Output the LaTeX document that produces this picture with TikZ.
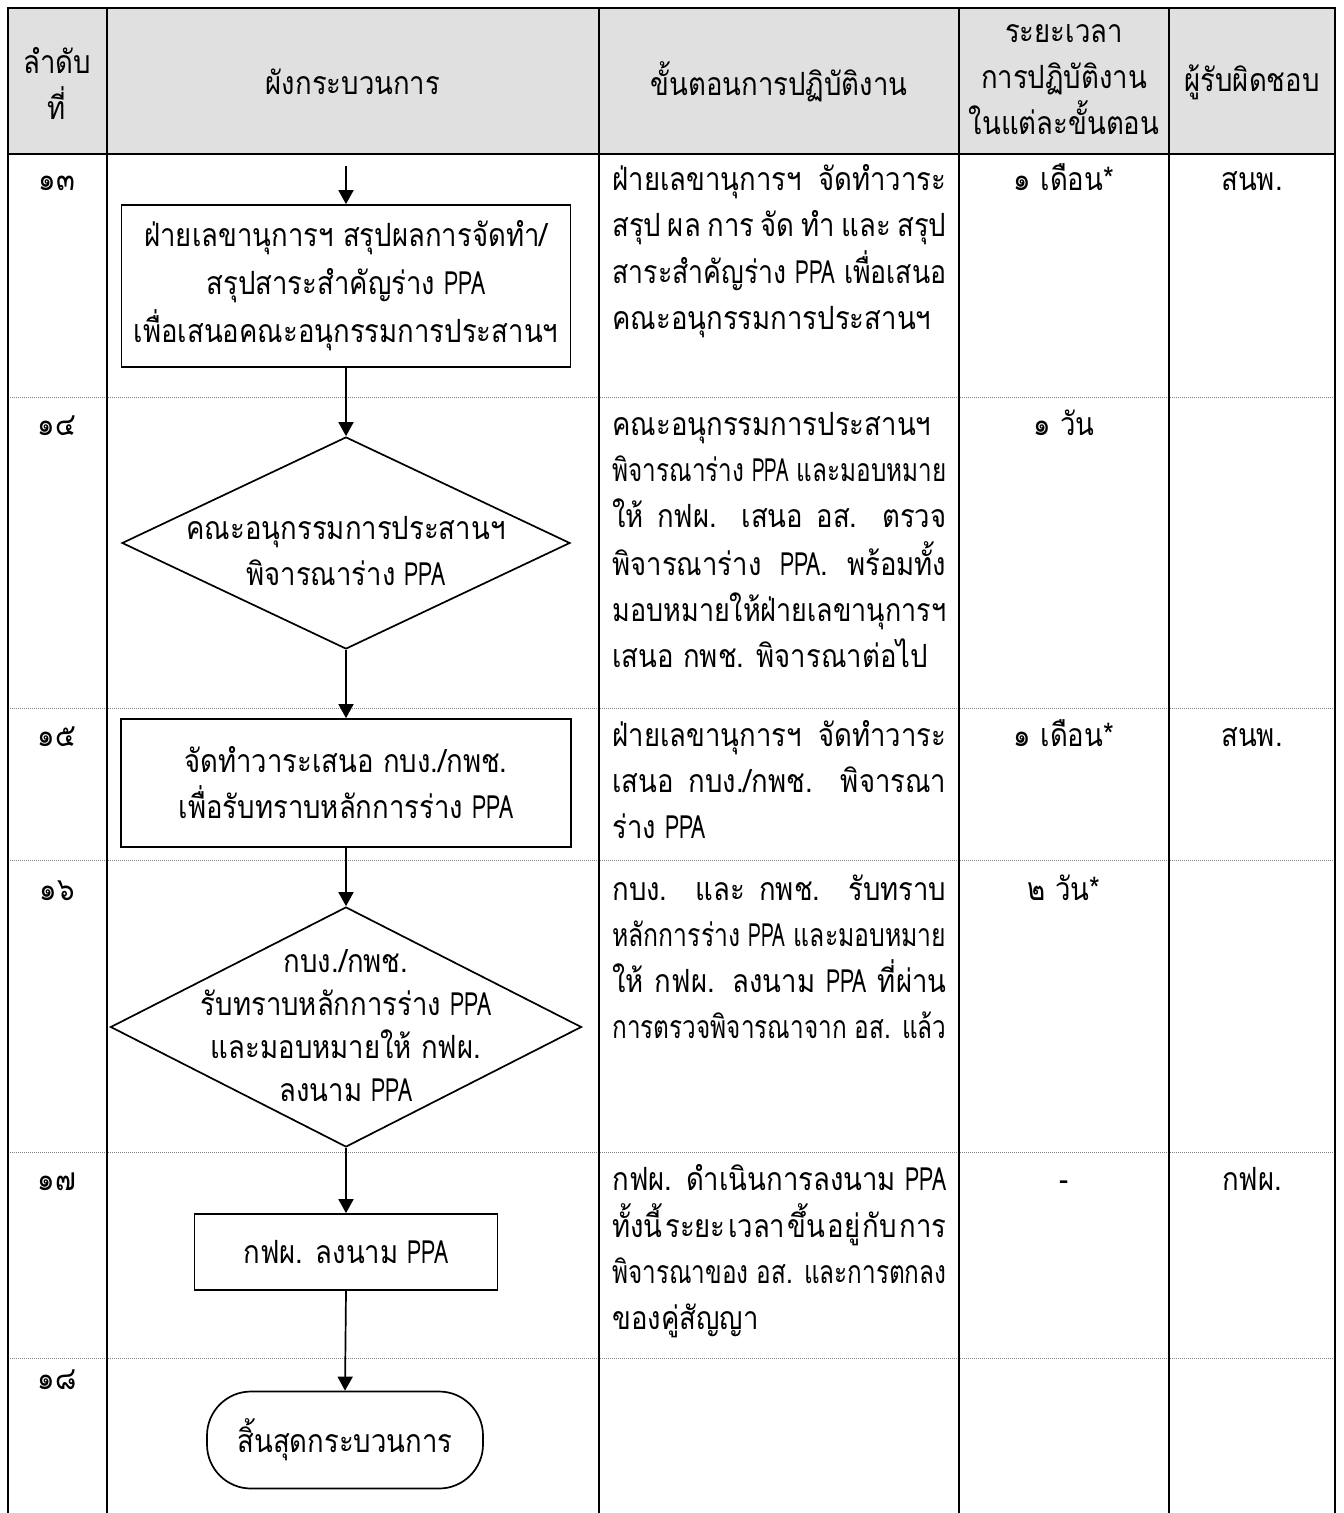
\documentclass[tikz,border=0pt]{standalone}
\usepackage{graphicx}
\usepackage{fontspec}
\setmainfont[Script=Thai, FakeStretch=0.86]{Loma}
\newfontfamily\latn[FakeStretch=0.66]{Loma}
\usetikzlibrary{shapes.geometric,arrows.meta}
\definecolor{hdrgray}{HTML}{E0E0E0}
\definecolor{dotgray}{HTML}{808080}
\newcommand\ppaw{{\latn PPA}}
\newsavebox\jlbox
\newcommand\jl[1]{\sbox\jlbox{#1}\ifdim\wd\jlbox>167pt\relax\resizebox{167pt}{\height}{\usebox\jlbox}\else\makebox[167pt][s]{#1}\fi}
\newcommand\gp{\hskip 0pt plus 1fil\relax}
\tikzset{
  frame/.style={line width=1pt, draw=black},
  rowsep/.style={line width=0.5pt, draw=dotgray, dash pattern=on 0.5pt off 0.5pt},
  txt/.style={font=\fontsize{16}{23}\selectfont, inner sep=0pt},
  hdrtxt/.style={txt, align=center},
  coltxt/.style={txt, anchor=base west},
  ctrtxt/.style={txt, align=center, anchor=base},
  procbox/.style={draw, line width=0.85pt, rectangle, txt, align=center},
  decision/.style={draw, line width=0.85pt, diamond, inner sep=0pt},
  termbox/.style={draw, line width=0.85pt, rectangle, rounded corners=22pt, txt, align=center},
  flow/.style={line width=0.85pt, -{Triangle[length=7pt,width=7.5pt]}}
}
\begin{document}
\begin{tikzpicture}[x=0.5pt,y=-0.5pt]
\useasboundingbox (0,0) rectangle (1343,1513);
% header background
\fill[hdrgray] (8,8) rectangle (1335,154);
% row separators
\foreach \yy in {398,708,860,1152,1358}{
  \draw[rowsep] (8,\yy) -- (1335,\yy);
}
% frame
\draw[frame] (8,1513) -- (8,8) -- (1335,8) -- (1335,1513);
\draw[frame] (8,154) -- (1335,154);
\foreach \xx in {107,599,959,1169}{
  \draw[frame] (\xx,8) -- (\xx,1513);
}
% header texts
\node[hdrtxt] (h1) at (57,83) {ลำดับ\\ที่};
\node[hdrtxt] (h2) at (353,82) {ผังกระบวนการ};
\node[hdrtxt] (h3) at (779,82) {ขั้นตอนการปฏิบัติงาน};
\node[hdrtxt] (h4) at (1064,80) {ระยะเวลา\\การปฏิบัติงาน\\ในแต่ละขั้นตอน};
\node[hdrtxt] (h5) at (1252,82) {ผู้รับผิดชอบ};
% row numbers
\node[ctrtxt] (n13) at (57,191) {๑๓};
\node[ctrtxt] (n14) at (57,436) {๑๔};
\node[ctrtxt] (n15) at (57,746) {๑๕};
\node[ctrtxt] (n16) at (57,900) {๑๖};
\node[ctrtxt] (n17) at (57,1190) {๑๗};
\node[ctrtxt] (n18) at (57,1389) {๑๘};
% column 3 texts
\node[coltxt] (s13) at (612,191) {\begin{tabular}[t]{@{}l@{}}
\jl{ฝ่ายเลขานุการฯ จัดทำวาระ}\\
\jl{สรุป\gp ผล\gp การ\gp จัด\gp ทำ\gp และ\gp สรุป}\\
\jl{สาระสำคัญร่าง \ppaw{} เพื่อเสนอ}\\
คณะอนุกรรมการประสานฯ
\end{tabular}};
\node[coltxt] (s14) at (612,436) {\begin{tabular}[t]{@{}l@{}}
คณะอนุกรรมการประสานฯ\\
\jl{พิจารณาร่าง \ppaw{} และมอบหมาย}\\
\jl{ให้ กฟผ. เสนอ อส. ตรวจ}\\
\jl{พิจารณาร่าง \ppaw. พร้อมทั้ง}\\
\jl{มอบหมาย\gp ให้\gp ฝ่าย\gp เลขานุการฯ}\\
เสนอ กพช. พิจารณาต่อไป
\end{tabular}};
\node[coltxt] (s15) at (612,746) {\begin{tabular}[t]{@{}l@{}}
\jl{ฝ่ายเลขานุการฯ จัดทำวาระ}\\
\jl{เสนอ กบง./กพช. พิจารณา}\\
ร่าง \ppaw
\end{tabular}};
\node[coltxt] (s16) at (612,900) {\begin{tabular}[t]{@{}l@{}}
\jl{กบง. และ กพช. รับทราบ}\\
\jl{หลักการร่าง \ppaw{} และมอบหมาย}\\
\jl{ให้ กฟผ. ลงนาม \ppaw{} ที่ผ่าน}\\
\jl{การตรวจพิจารณาจาก อส. แล้ว}
\end{tabular}};
\node[coltxt] (s17) at (612,1190) {\begin{tabular}[t]{@{}l@{}}
\jl{กฟผ. ดำเนินการลงนาม \ppaw}\\
\jl{ทั้งนี้\gp ระยะ\gp เวลา\gp ขึ้น\gp อยู่\gp กับ\gp การ}\\
\jl{พิจารณาของ อส. และการตกลง}\\
ของคู่สัญญา
\end{tabular}};
% column 4
\node[ctrtxt] (t13) at (1064,191) {๑ เดือน*};
\node[ctrtxt] (t14) at (1064,436) {๑ วัน};
\node[ctrtxt] (t15) at (1064,746) {๑ เดือน*};
\node[ctrtxt] (t16) at (1064,900) {๒ วัน*};
\node[ctrtxt] (t17) at (1064,1190) {-};
% column 5
\node[ctrtxt] (r13) at (1252,191) {สนพ.};
\node[ctrtxt] (r15) at (1252,746) {สนพ.};
\node[ctrtxt] (r17) at (1252,1190) {กฟผ.};
% flowchart
\coordinate (s0) at (346,166);
\node[procbox, minimum width=224.5pt, minimum height=81pt, font=\fontsize{16}{24}\selectfont] (b13) at (346,286) {ฝ่ายเลขานุการฯ สรุปผลการจัดทำ/\\สรุปสาระสำคัญร่าง \ppaw\\เพื่อเสนอคณะอนุกรรมการประสานฯ};
\node[decision, minimum width=224pt, minimum height=106pt] (d14) at (346,543) {};
\node[txt, align=center] (d14t) at (346,551) {คณะอนุกรรมการประสานฯ\\พิจารณาร่าง \ppaw};
\node[procbox, minimum width=225pt, minimum height=64pt] (b15) at (346,783) {จัดทำวาระเสนอ กบง./กพช.\\เพื่อรับทราบหลักการร่าง \ppaw};
\node[decision, minimum width=235.5pt, minimum height=120pt] (d16) at (346,1027) {};
\node[txt, align=center, font=\fontsize{16}{21.5}\selectfont] (d16t) at (346,1026) {กบง./กพช.\\รับทราบหลักการร่าง \ppaw\\และมอบหมายให้ กฟผ.\\ลงนาม \ppaw};
\node[procbox, minimum width=151.5pt, minimum height=38pt] (b17) at (346,1252) {กฟผ. ลงนาม \ppaw};
\node[termbox, minimum width=138pt, minimum height=48.5pt] (t18) at (345,1440) {สิ้นสุดกระบวนการ};
\draw[flow] (s0) -- (b13.north);
\draw[flow] (b13.south) -- (d14.north);
\draw[flow] (d14.south) -- (b15.north);
\draw[flow] (b15.south) -- (d16.north);
\draw[flow] (d16.south) -- (b17.north);
\draw[flow] (b17.south) -- (t18.north);
\end{tikzpicture}
\end{document}
